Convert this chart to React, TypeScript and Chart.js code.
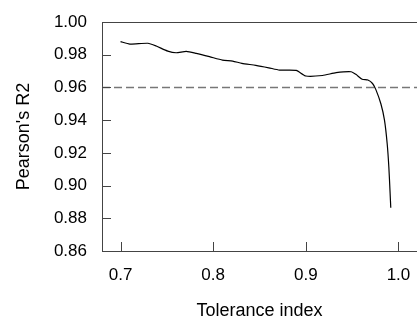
import React, { useEffect, useRef } from "react";
import { Chart, registerables } from "chart.js";

Chart.register(...registerables);

const toleranceIndex = [
  0.700, 0.710, 0.7295, 0.7385, 0.751, 0.760, 0.771, 0.7817, 0.796, 0.810,
  0.821, 0.831, 0.846, 0.860, 0.8716, 0.8896, 0.900, 0.918, 0.9327, 0.949,
  0.954, 0.9608, 0.967, 0.972, 0.9755, 0.981, 0.9849, 0.9878, 0.9896, 0.991,
  0.9917,
];
const pearsonR2 = [
  0.988, 0.9865, 0.987, 0.9853, 0.9822, 0.9812, 0.982, 0.9808, 0.9788, 0.9767,
  0.9761, 0.9747, 0.9735, 0.972, 0.9706, 0.9704, 0.967, 0.9673, 0.969, 0.9696,
  0.968, 0.965, 0.9645, 0.9624, 0.9588, 0.95, 0.94, 0.9257, 0.9114, 0.895,
  0.8865,
];
const thresholdValue = 0.96;
const xTicks = [0.7, 0.8, 0.9, 1.0];
const yTicks = [0.86, 0.88, 0.9, 0.92, 0.94, 0.96, 0.98, 1.0];

const FONT = "'Liberation Sans', Arial, sans-serif";
const AXIS_COLOR = "#444";

const framePlugin = {
  id: "frame",
  afterDraw(chart: any) {
    const { ctx, chartArea, scales } = chart;
    const xs = scales.x;
    const ys = scales.y;
    ctx.save();
    ctx.strokeStyle = AXIS_COLOR;
    ctx.lineWidth = 1;
    ctx.beginPath();
    ctx.moveTo(chartArea.left, chartArea.top + 0.5);
    ctx.lineTo(chart.width, chartArea.top + 0.5);
    for (const v of xTicks) {
      const px = Math.round(xs.getPixelForValue(v)) + 0.5;
      ctx.moveTo(px, chartArea.bottom);
      ctx.lineTo(px, chartArea.bottom - 9);
    }
    for (const v of yTicks) {
      const py = Math.round(ys.getPixelForValue(v)) + 0.5;
      ctx.moveTo(chartArea.left, py);
      ctx.lineTo(chartArea.left + 9, py);
    }
    ctx.stroke();
    ctx.restore();
  },
};

export default function App() {
  const ref = useRef<HTMLCanvasElement | null>(null);
  useEffect(() => {
    document.body.style.margin = "0";
    const canvas = ref.current!;
    const chart = new Chart(canvas, {
      type: "scatter",
      data: {
        datasets: [
          {
            data: toleranceIndex.map((x, i) => ({ x, y: pearsonR2[i] })),
            showLine: true,
            borderColor: "#000",
            borderWidth: 1.2,
            pointRadius: 0,
            tension: 0.2,
          },
          {
            data: [
              { x: 0.68, y: thresholdValue },
              { x: 1.02, y: thresholdValue },
            ],
            showLine: true,
            borderColor: "#777",
            borderWidth: 1.5,
            borderDash: [8, 4],
            pointRadius: 0,
          },
        ],
      },
      options: {
        animation: false,
        responsive: false,
        devicePixelRatio: 1,
        layout: { padding: { top: 22, right: 0, left: 0, bottom: 0 } },
        plugins: { legend: { display: false }, tooltip: { enabled: false } },
        scales: {
          x: {
            type: "linear",
            min: 0.68,
            max: 1.02,
            afterBuildTicks: (s: any) => {
              s.ticks = xTicks.map((v) => ({ value: v }));
            },
            afterFit: (s: any) => {
              s.height = 71;
              s.paddingRight = 0;
              s.paddingLeft = 0;
            },
            grid: { display: false, drawTicks: false },
            border: { display: true, color: AXIS_COLOR, width: 1 },
            ticks: {
              color: "#000",
              font: { family: FONT, size: 17 },
              padding: 14,
              maxRotation: 0,
              callback: (v: any) => Number(v).toFixed(1),
            },
            title: {
              display: true,
              text: "Tolerance index",
              color: "#000",
              font: { family: FONT, size: 18 },
              padding: { top: 0, bottom: 0 },
            },
          },
          y: {
            type: "linear",
            min: 0.86,
            max: 1.0,
            afterBuildTicks: (s: any) => {
              s.ticks = yTicks.map((v) => ({ value: v }));
            },
            afterFit: (s: any) => {
              s.width = 102;
              s.paddingTop = 0;
              s.paddingBottom = 0;
            },
            grid: { display: false, drawTicks: false },
            border: { display: true, color: AXIS_COLOR, width: 1 },
            ticks: {
              color: "#000",
              font: { family: FONT, size: 17 },
              padding: 15,
              callback: (v: any) => Number(v).toFixed(2),
            },
            title: {
              display: true,
              text: "Pearson's R2",
              color: "#000",
              font: { family: FONT, size: 18 },
              padding: { top: 13, bottom: 0 },
            },
          },
        },
      },
      plugins: [framePlugin],
    });
    return () => chart.destroy();
  }, []);
  return (
    <div style={{ width: 417, height: 322 }}>
      <canvas ref={ref} width={417} height={322} style={{ display: "block" }} />
    </div>
  );
}
